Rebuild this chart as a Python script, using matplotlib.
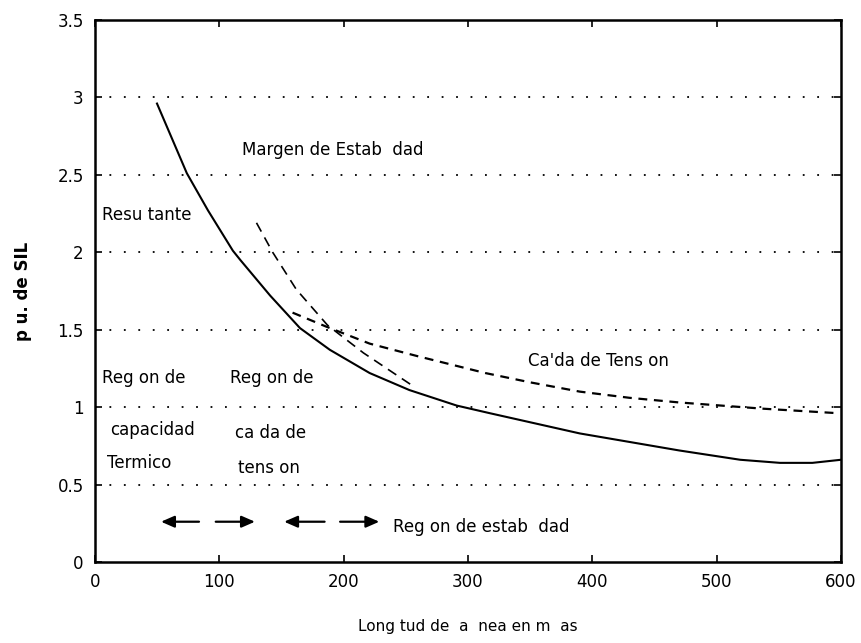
import matplotlib
matplotlib.use("Agg")
import matplotlib.pyplot as plt

# Data
resultante_x = [50, 74, 91, 111, 117, 141, 165, 189, 221, 253, 291, 318, 390, 470, 519, 551, 577, 600]
resultante_y = [2.96, 2.51, 2.27, 2.01, 1.95, 1.72, 1.51, 1.37, 1.22, 1.11, 1.01, 0.96, 0.83, 0.72, 0.66, 0.64, 0.64, 0.66]
caida_x = [159, 186, 221, 259, 314, 350, 390, 430, 470, 537, 599]
caida_y = [1.61, 1.52, 1.41, 1.33, 1.22, 1.16, 1.10, 1.06, 1.03, 0.99, 0.96]
termico_x = [130, 143, 162, 187, 216, 257]
termico_y = [2.19, 2.00, 1.76, 1.53, 1.35, 1.13]

xticks = [0, 100, 200, 300, 400, 500, 600]
yticks = [0, 0.5, 1, 1.5, 2, 2.5, 3, 3.5]
ytick_labels = ["0", "0.5", "1", "1.5", "2", "2.5", "3", "3.5"]
grid_levels = [0.5, 1, 1.5, 2, 2.5, 3]

plt.rcParams['font.family'] = ['DejaVu Sans']

fig = plt.figure(figsize=(8.62, 6.43), dpi=100)
ax = fig.add_axes([0.110, 0.126, 0.8656, 0.843])

for g in grid_levels:
    ax.axhline(g, color='black', lw=1.3, linestyle=(0, (1, 7)), zorder=1)

ax.plot(resultante_x, resultante_y, color='black', lw=1.5, zorder=3,
        solid_joinstyle='round')
ax.plot(caida_x, caida_y, color='black', lw=1.6, linestyle=(0, (4, 3)), zorder=3)
ax.plot(termico_x, termico_y, color='black', lw=1.2, linestyle=(0, (6, 4)), zorder=3)

ax.set_xlim(0, 600)
ax.set_ylim(0, 3.5)
ax.set_xticks(xticks)
ax.set_yticks(yticks)
ax.set_yticklabels(ytick_labels)
ax.tick_params(direction='in', length=5, width=1.2, labelsize=12, top=True, right=True, pad=8)
for s in ax.spines.values():
    s.set_linewidth(1.8)

ax.set_ylabel("p u. de SIL", fontsize=12, fontweight='bold', labelpad=18)
ax.set_xlabel("Long tud de  a  nea en m  as", fontsize=11, labelpad=20)

fs = 12
ax.text(118, 2.66, "Margen de Estab  dad", fontsize=fs, va='center')
ax.text(6, 2.24, "Resu tante", fontsize=fs, va='center')
ax.text(6, 1.19, "Reg on de", fontsize=fs, va='center')
ax.text(12, 0.85, "capacidad", fontsize=fs, va='center')
ax.text(10, 0.64, "Termico", fontsize=fs, va='center')
ax.text(109, 1.19, "Reg on de", fontsize=fs, va='center')
ax.text(113, 0.83, "ca da de", fontsize=fs, va='center')
ax.text(115, 0.61, "tens on", fontsize=fs, va='center')
ax.text(348, 1.30, "Ca'da de Tens on", fontsize=fs, va='center')
ax.text(240, 0.225, "Reg on de estab  dad", fontsize=fs, va='center')

arrow_kw = dict(arrowstyle='-|>,head_length=0.8,head_width=0.35', color='black', lw=1.6)
ay = 0.26
ax.annotate("", xy=(51, ay), xytext=(86, ay), arrowprops=arrow_kw)
ax.annotate("", xy=(131, ay), xytext=(95, ay), arrowprops=arrow_kw)
ax.annotate("", xy=(150, ay), xytext=(187, ay), arrowprops=arrow_kw)
ax.annotate("", xy=(231, ay), xytext=(195, ay), arrowprops=arrow_kw)

fig.savefig("out.png", dpi=100)
